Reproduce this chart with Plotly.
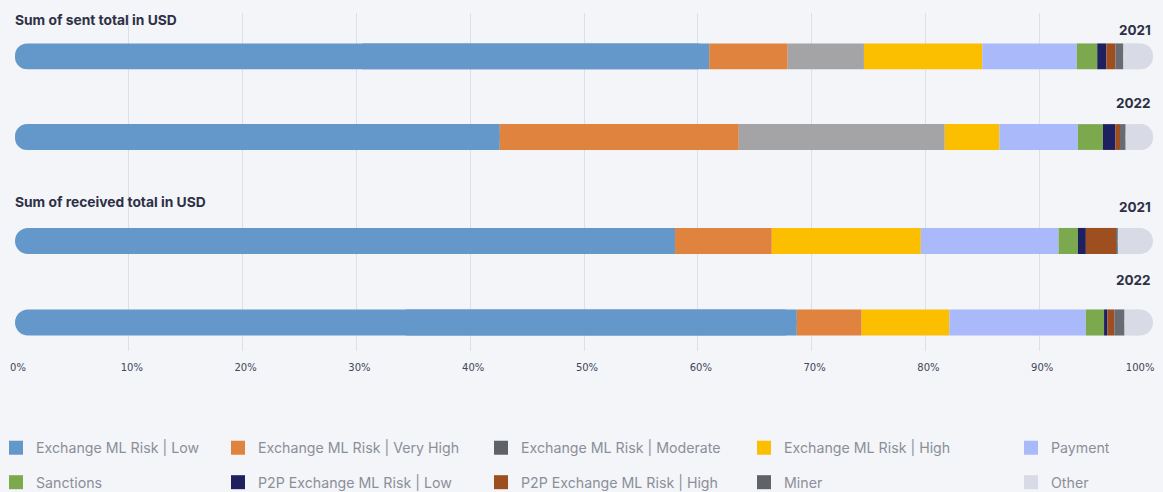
import plotly.graph_objects as go

# ---------------- data ----------------
categories = [
    "Exchange ML Risk | Low",
    "Exchange ML Risk | Very High",
    "Exchange ML Risk | Moderate",
    "Exchange ML Risk | High",
    "Payment",
    "Sanctions",
    "P2P Exchange ML Risk | Low",
    "P2P Exchange ML Risk | High",
    "Miner",
    "Other",
]
years = ["2021", "2022"]
sent_2021 = [61.0, 6.9, 6.7, 10.4, 8.3, 1.8, 0.8, 0.8, 0.7, 2.6]
sent_2022 = [42.6, 21.0, 18.1, 4.8, 6.9, 2.2, 1.1, 0.4, 0.5, 2.4]
received_2021 = [58.0, 8.5, 0.0, 13.1, 12.1, 1.7, 0.7, 2.7, 0.1, 3.1]
received_2022 = [68.7, 5.7, 0.0, 7.7, 12.0, 1.6, 0.3, 0.6, 0.9, 2.5]
panel_titles = ["Sum of sent total in USD", "Sum of received total in USD"]
tick_values = [0, 10, 20, 30, 40, 50, 60, 70, 80, 90, 100]
tick_labels = ["0%", "10%", "20%", "30%", "40%", "50%", "60%", "70%", "80%", "90%", "100%"]

# ---------------- styles ----------------
bar_colors = ["#6497CA", "#E0833F", "#A4A4A7", "#FBBF00", "#AAB9FA",
              "#7CA94E", "#1E2060", "#9E4F1F", "#686B71", "#D8DBE5"]
legend_colors = ["#6497CA", "#E0833F", "#5F6267", "#FBBF00", "#AAB9FA",
                 "#7CA94E", "#1E2060", "#9E4F1F", "#5F6267", "#D8DBE5"]
BG = "#F3F5F8"
GRID = "#DCE0E6"
TXT = "#2E3046"
FONT = "Inter"
RADIUS = 13

panels = [
    ("x", "y", [sent_2021, sent_2022]),
    ("x2", "y2", [received_2021, received_2022]),
]

fig = go.Figure()


def add_bar(xa, ya, name, color, lengths, bases, radius):
    fig.add_trace(go.Bar(
        x=lengths, y=years, base=bases, orientation="h", name=name,
        xaxis=xa, yaxis=ya, width=0.32, showlegend=False,
        marker=dict(color=color, line=dict(width=0), cornerradius=radius),
        hoverinfo="skip",
    ))


last = len(categories) - 1
for xa, ya, series in panels:
    starts = []
    for vals in series:
        s, acc = [], 0.0
        for v in vals:
            s.append(acc)
            acc += v
        starts.append(s)
    for i, name in enumerate(categories):
        lengths = [vals[i] for vals in series]
        bases = [starts[k][i] for k in range(len(series))]
        if i == 0:
            # rounded pill, then square the inner (right) end with a half-length cover
            add_bar(xa, ya, name, bar_colors[i], lengths, bases, RADIUS)
            add_bar(xa, ya, name, bar_colors[i], [l / 2 for l in lengths],
                    [b + l / 2 for b, l in zip(bases, lengths)], 0)
        elif i == last:
            # rounded pill, then square the inner (left) end with a half-length cover
            add_bar(xa, ya, name, bar_colors[i], lengths, bases, RADIUS)
            add_bar(xa, ya, name, bar_colors[i], [l / 2 for l in lengths], bases, 0)
        else:
            add_bar(xa, ya, name, bar_colors[i], lengths, bases, 0)

# legend-only entries: 5 columns, 2 rows
ncol = 5
for c in range(ncol):
    for r in range(2):
        i = r * ncol + c
        fig.add_trace(go.Scatter(
            x=[None], y=[None], mode="markers", name=categories[i],
            legend="legend" if c == 0 else f"legend{c + 1}",
            legendgroup=categories[i],
            marker=dict(symbol="square", size=14, color=legend_colors[i]),
            xaxis="x", yaxis="y",
        ))

W, H = 1163, 492
ML, MR, MT, MB = 15, 10, 13, 141
PW, PH = W - ML - MR, H - MT - MB
legend_x_px = [-4, 218, 481, 744, 1011]
legend_top_px = 432
legend_font = dict(family=FONT, size=14.2, color="#8B8F99")
for c in range(ncol):
    key = "legend" if c == 0 else f"legend{c + 1}"
    fig.update_layout({key: dict(
        xref="paper", yref="paper",
        x=(legend_x_px[c] - ML) / PW, y=(H - MB - legend_top_px) / PH,
        xanchor="left", yanchor="top", orientation="v",
        bgcolor="rgba(0,0,0,0)", borderwidth=0,
        font=legend_font, tracegroupgap=13, itemclick=False, itemdoubleclick=False,
    )})

# tick labels: push the last one inward so it stays inside the frame
tick_text = list(tick_labels)
tick_text[-1] = tick_text[-1] + "\u00a0" * 10

xcommon = dict(range=[0, 100], tickmode="array", tickvals=tick_values,
               showgrid=True, gridcolor=GRID, gridwidth=1, zeroline=False,
               showline=False, ticks="", fixedrange=True, automargin=False)
split = (351 - 189) / 338
fig.update_layout(
    width=W, height=H,
    margin=dict(l=ML, r=MR, t=MT, b=MB, pad=0, autoexpand=False),
    paper_bgcolor=BG, plot_bgcolor=BG,
    barmode="overlay", bargap=0.68,
    showlegend=True,
    xaxis=dict(domain=[0, 1], anchor="y", showticklabels=False, **xcommon),
    xaxis2=dict(domain=[0, 1], anchor="y2", showticklabels=True, ticktext=tick_text,
                ticklabelstandoff=9, ticklabelshift=3, ticklabeloverflow="allow",
                tickfont=dict(family="DejaVu Sans", size=10, color="#414659"),
                **xcommon),
    yaxis=dict(domain=[split, 1], anchor="x", type="category", categoryorder="array",
               categoryarray=years, range=[1.644, -0.537], visible=False, fixedrange=True),
    yaxis2=dict(domain=[0, split], anchor="x2", type="category", categoryorder="array",
                categoryarray=years, range=[1.350, -0.638], visible=False, fixedrange=True),
)

# panel titles
title_pos = [("y domain", (189 - 20) / 176), ("y2 domain", (351 - 201.7) / 162)]
for (yref, yv), (xa, _, _), t in zip(title_pos, panels, panel_titles):
    fig.add_annotation(text=f"<b>{t}</b>", xref=xa, x=0, xanchor="left", xshift=-2,
                       yref=yref, y=yv, yanchor="middle", showarrow=False,
                       font=dict(family=FONT, size=13.8, color=TXT))

# year labels above each bar, right aligned
year_shift = [[26, 34], [34, 42]]
for p, (xa, ya, _) in enumerate(panels):
    for k, yr in enumerate(years):
        fig.add_annotation(text=f"<b>{yr}</b>", xref=xa, x=100, xanchor="right",
                           yref=ya, y=k, yanchor="middle", yshift=year_shift[p][k],
                           showarrow=False,
                           font=dict(family=FONT, size=13.5, color=TXT))

fig.write_html("out.html")
